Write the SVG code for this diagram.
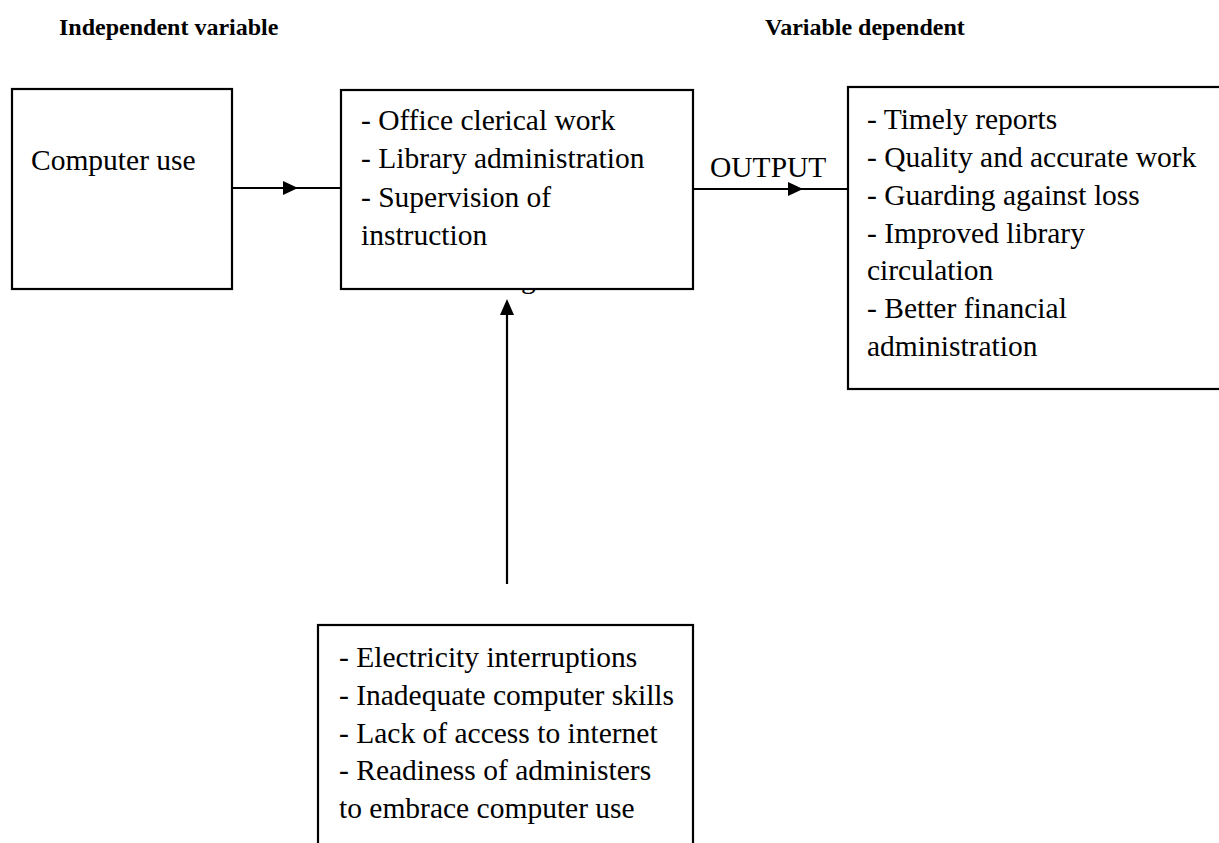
<svg xmlns="http://www.w3.org/2000/svg" width="1219" height="843" viewBox="0 0 1219 843">
<style>
.box{fill:#fff;stroke:#000;stroke-width:2.2}
.t{font-family:"Liberation Serif","Times New Roman",serif;font-size:29.5px;fill:#000}
.h{font-family:"Liberation Serif","Times New Roman",serif;font-size:24px;font-weight:bold;fill:#000}
.ln{stroke:#000;stroke-width:2.2;fill:none}
</style>
<rect width="1219" height="843" fill="#fff"/>
<text class="h" x="59" y="35">Independent variable</text>
<text class="h" x="765" y="35">Variable dependent</text>
<text class="t" x="521" y="288">g</text>
<g id="connectors">
<line class="ln" x1="232" y1="188" x2="341" y2="188"/>
<polygon points="283,181 298,188 283,195" fill="#000"/>
<line class="ln" x1="693" y1="189" x2="848" y2="189"/>
<polygon points="788,182 803,189 788,196" fill="#000"/>
<line class="ln" x1="507" y1="584" x2="507" y2="312"/>
<polygon points="500,315 507,299 514,315" fill="#000"/>
<text class="t" x="710" y="177">OUTPUT</text>
</g>
<g id="node-computer-use">
<rect class="box" x="12" y="89" width="220" height="200"/>
<text class="t" x="31" y="170">Computer use</text>
</g>
<g id="node-tasks">
<rect class="box" x="341" y="90" width="352" height="199"/>
<text class="t" x="361" y="130">- Office clerical work</text>
<text class="t" x="361" y="168">- Library administration</text>
<text class="t" x="361" y="207">- Supervision of</text>
<text class="t" x="361" y="245">instruction</text>
</g>
<g id="node-outcomes">
<rect class="box" x="848" y="87" width="380" height="302"/>
<text class="t" x="867" y="129">- Timely reports</text>
<text class="t" x="867" y="167">- Quality and accurate work</text>
<text class="t" x="867" y="205">- Guarding against loss</text>
<text class="t" x="867" y="243">- Improved library</text>
<text class="t" x="867" y="280">circulation</text>
<text class="t" x="867" y="318">- Better financial</text>
<text class="t" x="867" y="356">administration</text>
</g>
<g id="node-challenges">
<rect class="box" x="318" y="625" width="375" height="230"/>
<text class="t" x="339" y="667">- Electricity interruptions</text>
<text class="t" x="339" y="705">- Inadequate computer skills</text>
<text class="t" x="339" y="743">- Lack of access to internet</text>
<text class="t" x="339" y="780">- Readiness of administers</text>
<text class="t" x="339" y="818">to embrace computer use</text>
</g>
</svg>
